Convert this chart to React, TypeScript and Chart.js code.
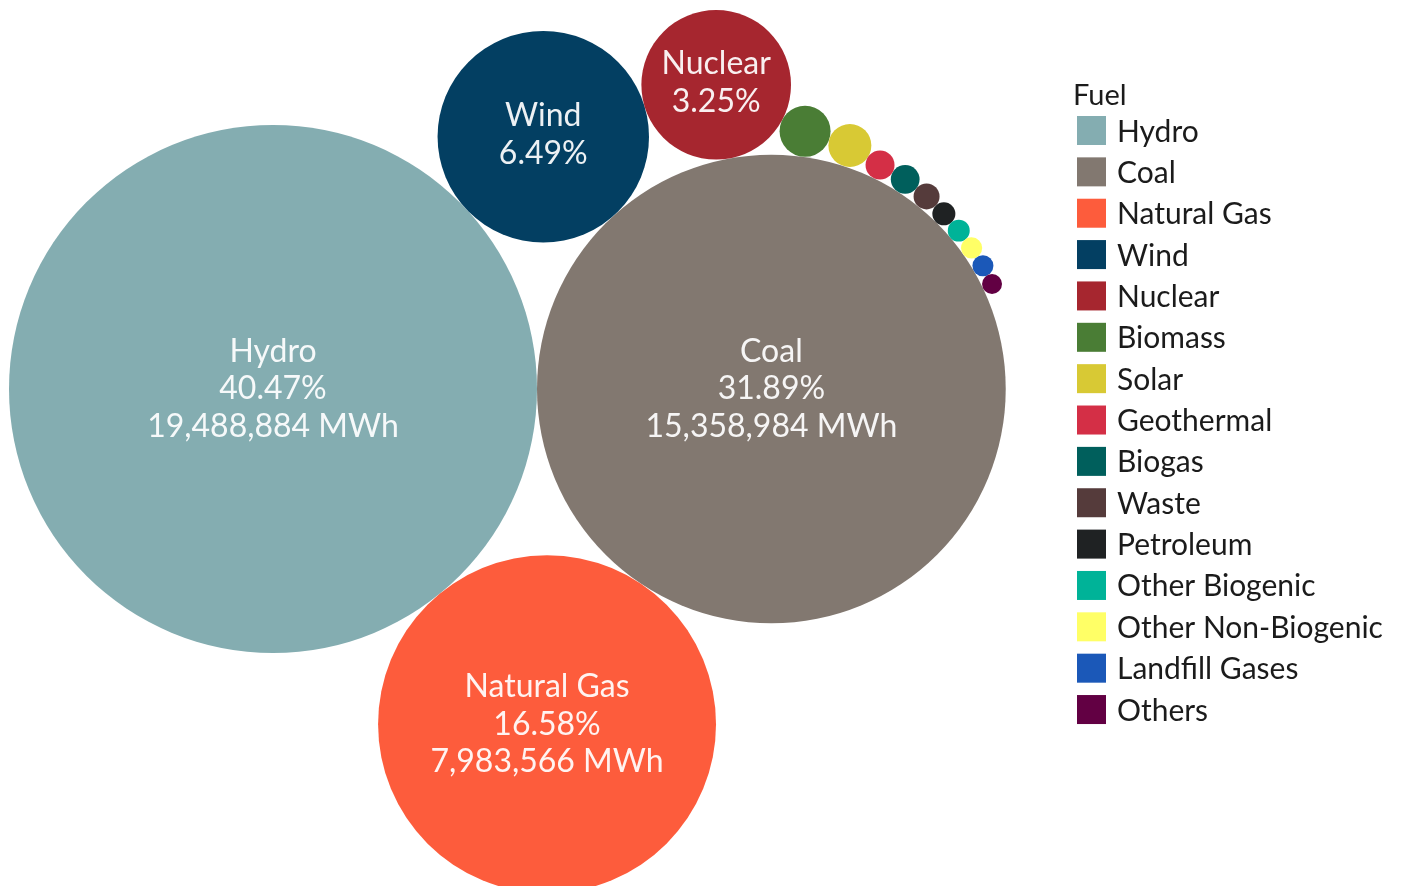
import React, { useEffect, useRef } from "react";
import { Chart, registerables } from "chart.js";

Chart.register(...registerables);

// ---- Data ----
const fuels = [
  "Hydro",
  "Coal",
  "Natural Gas",
  "Wind",
  "Nuclear",
  "Biomass",
  "Solar",
  "Geothermal",
  "Biogas",
  "Waste",
  "Petroleum",
  "Other Biogenic",
  "Other Non-Biogenic",
  "Landfill Gases",
  "Others",
];

const generationMWh = [
  19488884, 15358984, 7983566, 3125500, 1565200, 182000, 129000, 58800, 57800,
  47200, 37100, 33700, 31300, 30800, 27900,
];

const fuelColors = [
  "#84adb1",
  "#827870",
  "#fd5c3c",
  "#033f62",
  "#a6262f",
  "#4a7d35",
  "#d8c934",
  "#d42f46",
  "#005f5c",
  "#553b3b",
  "#1f2223",
  "#00b398",
  "#ffff66",
  "#1b58b8",
  "#620043",
];

const legendTitle = "Fuel";

// ---- Layout constants (pixel space) ----
const W = 1401;
const H = 886;
const RADIUS_PER_SQRT_MWH = 264 / Math.sqrt(19488884);
const ORIGIN = { x: 273, y: 389 };
const FONT = 'Lato, "Open Sans", "Noto Sans", sans-serif';

type P = { x: number; y: number };

function tangentTo(a: P, ra: number, b: P, rb: number, r: number, side: number): P {
  const dx = b.x - a.x;
  const dy = b.y - a.y;
  const d = Math.sqrt(dx * dx + dy * dy);
  const A = ra + r;
  const B = rb + r;
  const along = (d * d + A * A - B * B) / (2 * d);
  const h = Math.sqrt(Math.max(0, A * A - along * along));
  const ux = dx / d;
  const uy = dy / d;
  const nx = -uy;
  const ny = ux;
  return { x: a.x + along * ux + side * h * nx, y: a.y + along * uy + side * h * ny };
}

function packBubbles() {
  const radii = generationMWh.map((v) => RADIUS_PER_SQRT_MWH * Math.sqrt(v));
  const pos: P[] = [];
  pos[0] = { x: 0, y: 0 };
  pos[1] = { x: radii[0] + radii[1], y: 0 };
  pos[2] = tangentTo(pos[0], radii[0], pos[1], radii[1], radii[2], 1);
  pos[3] = tangentTo(pos[0], radii[0], pos[1], radii[1], radii[3], -1);
  for (let k = 4; k < radii.length; k++) {
    pos[k] = tangentTo(pos[k - 1], radii[k - 1], pos[1], radii[1], radii[k], -1);
  }
  return pos.map((p, i) => ({ x: p.x + ORIGIN.x, y: p.y + ORIGIN.y, r: radii[i] }));
}

const total = generationMWh.reduce((s, v) => s + v, 0);

const bubbleLabelPlugin = {
  id: "bubbleLabels",
  afterDatasetsDraw(chart: any) {
    const ctx = chart.ctx;
    const meta = chart.getDatasetMeta(0);
    ctx.save();
    ctx.fillStyle = "rgba(255,255,255,0.93)";
    ctx.textAlign = "center";
    ctx.textBaseline = "middle";
    ctx.font = `32px ${FONT}`;
    meta.data.forEach((el: any, i: number) => {
      const r = el.options.radius;
      if (r < 60) return;
      const pct = ((generationMWh[i] / total) * 100).toFixed(2) + "%";
      const lines = [fuels[i], pct];
      if (r > 150) lines.push(generationMWh[i].toLocaleString("en-US") + " MWh");
      const lh = 37.5;
      const y0 = el.y - ((lines.length - 1) * lh) / 2 - (lines.length === 2 ? 2 : 0);
      lines.forEach((t, j) => ctx.fillText(t, el.x, y0 + j * lh));
    });
    ctx.restore();
  },
};

const legendPlugin = {
  id: "fuelLegend",
  afterDraw(chart: any) {
    const ctx = chart.ctx;
    ctx.save();
    ctx.fillStyle = "#1b1b1b";
    ctx.textAlign = "left";
    ctx.textBaseline = "alphabetic";
    ctx.font = `29px ${FONT}`;
    ctx.fillText(legendTitle, 1073, 105);
    ctx.font = `30px ${FONT}`;
    fuels.forEach((f, i) => {
      const cy = 130.5 + i * 41.36;
      ctx.fillStyle = fuelColors[i];
      ctx.fillRect(1077, cy - 14.5, 29, 29);
      ctx.fillStyle = "#1b1b1b";
      ctx.fillText(f, 1117, cy + 11);
    });
    ctx.restore();
  },
};

export default function App() {
  const canvasRef = useRef<HTMLCanvasElement | null>(null);

  useEffect(() => {
    if (!canvasRef.current) return;
    const points = packBubbles();
    const chart = new Chart(canvasRef.current, {
      type: "bubble",
      data: {
        datasets: [
          {
            label: "Fuel",
            data: points,
            backgroundColor: fuelColors,
            borderWidth: 0,
            hoverRadius: 0,
            clip: false as any,
          },
        ],
      },
      options: {
        animation: false,
        responsive: false,
        events: [],
        layout: { padding: 0, autoPadding: false } as any,
        scales: {
          x: { type: "linear", display: false, min: 0, max: W },
          y: { type: "linear", display: false, min: 0, max: H, reverse: true },
        },
        plugins: {
          legend: { display: false },
          tooltip: { enabled: false },
        },
      },
      plugins: [bubbleLabelPlugin, legendPlugin],
    });
    return () => chart.destroy();
  }, []);

  return (
    <div style={{ position: "fixed", left: 0, top: 0, width: W, height: H, background: "#ffffff" }}>
      <canvas ref={canvasRef} width={W} height={H} style={{ display: "block" }} />
    </div>
  );
}
